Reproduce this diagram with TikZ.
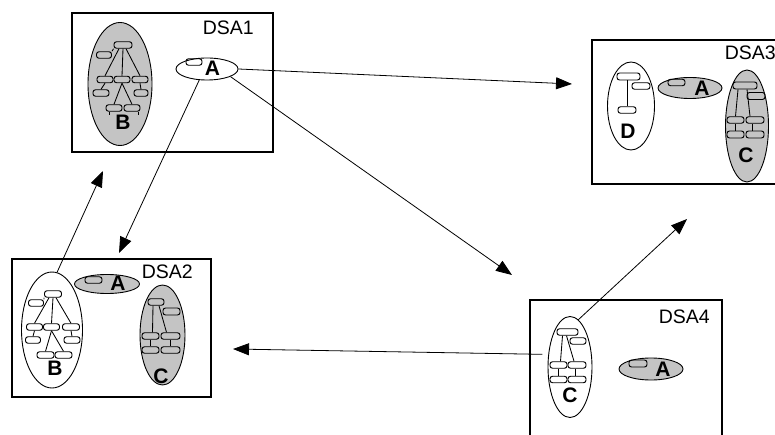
\documentclass[tikz,border=0pt]{standalone}
\usepackage{fontspec}
\setmainfont{Liberation Sans}
\usetikzlibrary{shapes.geometric, arrows.meta, positioning}

\begin{document}
\begin{tikzpicture}[x=1pt, y=-1pt,
  dsabox/.style={draw, line width=1.3pt},
  part/.style={ellipse, draw, line width=0.9pt, inner sep=0pt},
  grey part/.style={part, fill=black!23},
  white part/.style={part, fill=white},
  tnode/.style={draw, rounded corners=2.5pt, minimum width=17pt, minimum height=6.5pt, inner sep=0pt, line width=0.95pt},
  letter/.style={font=\bfseries\fontsize{21}{21}\selectfont, inner sep=0pt},
  dsalabel/.style={font=\fontsize{19.5}{19.5}\selectfont, inner sep=0pt, anchor=base east},
  link/.style={-{Triangle[length=16pt, width=12pt]}, line width=0.8pt},
  tline/.style={line width=0.85pt}]

  \useasboundingbox (0,0) rectangle (775,435);

  % the four boxes
  \draw[dsabox] (72,13) rectangle (273,152);
  \draw[dsabox] (12,259) rectangle (211,397);
  \draw[dsabox] (592,40) rectangle (778,184);
  \draw[dsabox] (530,300) rectangle (722,440);
  \node[dsalabel] (lab1) at (254,35) {DSA1};
  \node[dsalabel] (lab2) at (193,278) {DSA2};
  \node[dsalabel] (lab3) at (776,60) {DSA3};
  \node[dsalabel] (lab4) at (710,323) {DSA4};

  % DSA1
  \node[grey part, minimum width=64pt, minimum height=123pt] (b1) at (120,84) {};
  \node[white part, minimum width=62pt, minimum height=22pt] (a1) at (207,69) {};
  \node[tnode, minimum width=16pt] (a1r) at (194,62) {};
  \node[letter] (a1l) at (212.5,68.5) {A};
  \node[tnode, minimum width=18pt] (bat) at (123,45) {};
  \node[tnode, minimum width=15pt] (bal) at (104,55) {};
  \node[tnode, minimum width=16pt] (ba1) at (105,79.5) {};
  \node[tnode, minimum width=16pt] (ba2) at (122,79.5) {};
  \node[tnode, minimum width=16pt] (ba3) at (140,79.5) {};
  \node[tnode, minimum width=16pt] (ba4) at (101,93) {};
  \node[tnode, minimum width=14pt] (ba5) at (141,93) {};
  \node[tnode, minimum width=16pt] (ba6) at (114,108) {};
  \node[tnode, minimum width=16pt] (ba7) at (132,108) {};
  \draw[tline] (bat.south west) -- (bal.north east);
  \draw[tline] ([xshift=-4pt]bat.south) -- (ba1.north);
  \draw[tline] (bat.south) -- (ba2.north);
  \draw[tline] ([xshift=3pt]bat.south) -- (ba3.north);
  \draw[tline] (ba1.south) -- (ba4.north);
  \draw[tline] (ba3.south) -- (ba5.north);
  \draw[tline] (ba2.south) -- (ba6.north);
  \draw[tline] (ba2.south) -- (ba7.north);
  \draw[tline] ([xshift=-5pt]ba6.south) -- ++(0,3);
  \draw[tline] ([xshift=6pt]ba7.south) -- ++(0,3);
  \node[letter] (b1l) at (123,122.5) {B};

  % DSA2
  \node[white part, minimum width=61pt, minimum height=116pt] (b2) at (52,330) {};
  \node[grey part, minimum width=65pt, minimum height=19pt] (a2) at (107,284) {};
  \node[grey part, minimum width=45pt, minimum height=100pt] (c2) at (162.5,335) {};
  \node[tnode] (a2r) at (93.5,280) {};
  \node[letter] (a2l) at (118,283.5) {A};
  \node[tnode] (bbt) at (53,294) {};
  \node[tnode, minimum width=15pt] (bbl) at (36,303) {};
  \node[tnode, minimum width=16pt] (bb1) at (34.5,327) {};
  \node[tnode, minimum width=16pt] (bb2) at (51.5,327) {};
  \node[tnode, minimum width=17pt] (bb3) at (71,327) {};
  \node[tnode, minimum width=15pt] (bb4) at (33,340) {};
  \node[tnode, minimum width=16pt] (bb5) at (72,340) {};
  \node[tnode] (bb6) at (45.5,355) {};
  \node[tnode] (bb7) at (63.5,355) {};
  \draw[tline] (bbt.south west) -- (bbl.north east);
  \draw[tline] ([xshift=-4pt]bbt.south) -- (bb1.north);
  \draw[tline] (bbt.south) -- (bb2.north);
  \draw[tline] ([xshift=3pt]bbt.south) -- (bb3.north);
  \draw[tline] (bb1.south) -- (bb4.north);
  \draw[tline] (bb3.south) -- (bb5.north);
  \draw[tline] (bb2.south) -- (bb6.north);
  \draw[tline] (bb2.south) -- (bb7.north);
  \node[letter] (b2l) at (55,368.5) {B};
  \node[tnode, minimum width=16pt] (cbt) at (156,302) {};
  \node[tnode, minimum height=7pt] (cbr) at (171.5,311.5) {};
  \node[tnode] (cb1) at (150.5,336) {};
  \node[tnode, minimum width=19pt] (cb2) at (170.5,336) {};
  \node[tnode] (cb3) at (150.5,350) {};
  \node[tnode, minimum width=19pt] (cb4) at (170.5,350) {};
  \draw[tline] ([xshift=-3pt]cbt.south) -- ([xshift=2pt]cb1.north);
  \draw[tline] ([xshift=3pt]cbt.south) -- ([xshift=-4pt]cb2.north);
  \draw[tline] (cb1.south) -- (cb3.north);
  \draw[tline] (cb2.south) -- (cb4.north);
  \node[letter] (c2l) at (161,376) {C};

  % DSA3
  \node[white part, minimum width=47pt, minimum height=88pt] (d3) at (631,106) {};
  \node[grey part, minimum width=64pt, minimum height=21pt] (a3) at (690,88) {};
  \node[grey part, minimum width=43pt, minimum height=112pt] (c3) at (747,126) {};
  \node[tnode] (a3r) at (676.5,82.5) {};
  \node[letter] (a3l) at (702,88) {A};
  \node[tnode, minimum width=23pt, minimum height=7pt] (dt) at (628.5,76.5) {};
  \node[tnode, minimum width=18pt] (dr) at (641,86) {};
  \node[tnode, minimum width=18pt] (db) at (627,110) {};
  \draw[tline] (db.north |- dt.south) -- (db.north);
  \node[letter] (d3l) at (628,131) {D};
  \node[tnode, minimum width=24pt, minimum height=7pt] (cct) at (745,85.5) {};
  \node[tnode, minimum width=18pt, minimum height=7pt] (ccr) at (756,96) {};
  \node[tnode] (cc1) at (735.5,120) {};
  \node[tnode, minimum width=18pt] (cc2) at (755,120) {};
  \node[tnode, minimum height=7pt] (cc3) at (735.5,134.5) {};
  \node[tnode, minimum width=18pt, minimum height=7pt] (cc4) at (755,134.5) {};
  \draw[tline] ([xshift=-7pt]cct.south) -- (cc1.north);
  \draw[tline] ([xshift=2pt]cct.south) -- ([xshift=-5pt]cc2.north);
  \draw[tline] (cc1.south) -- (cc3.north);
  \draw[tline] ([xshift=-3pt]cc2.south) -- ([xshift=-3pt]cc4.north);
  \node[letter] (c3l) at (746,155) {C};

  % DSA4
  \node[white part, minimum width=44pt, minimum height=101pt] (c4) at (570,367) {};
  \node[grey part, minimum width=64pt, minimum height=22pt] (a4) at (651,369) {};
  \node[tnode, minimum width=18pt, minimum height=7pt] (a4r) at (638,363.5) {};
  \node[letter] (a4l) at (663,369) {A};
  \node[tnode, minimum width=21pt] (cdt) at (567.5,332) {};
  \node[tnode, minimum width=16pt] (cdr) at (578,341) {};
  \node[tnode] (cd1) at (558.5,365) {};
  \node[tnode, minimum width=18pt] (cd2) at (577,365) {};
  \node[tnode] (cd3) at (558.5,379.5) {};
  \node[tnode, minimum width=18pt] (cd4) at (577,379.5) {};
  \draw[tline] ([xshift=-5pt]cdt.south) -- ([xshift=2pt]cd1.north);
  \draw[tline] ([xshift=-1pt]cdt.south) -- ([xshift=-3pt]cd2.north);
  \draw[tline] (cd1.south) -- (cd3.north);
  \draw[tline] ([xshift=-2pt]cd2.south) -- ([xshift=-2pt]cd4.north);
  \node[letter] (c4l) at (570,395) {C};

  % links between the boxes
  \coordinate (tip13) at (572,84);
  \coordinate (tip14) at (512,275);
  \coordinate (tip12) at (119,253);
  \coordinate (tip21) at (103,171);
  \coordinate (tip43) at (687,219);
  \coordinate (tip42) at (233,349);
  \draw[link] (a1.east) -- (tip13);
  \draw[link] (a1.-18) -- (tip14);
  \draw[link] (a1.-125) -- (tip12);
  \draw[link] (b2.85) -- (tip21);
  \draw[link] (c4.80) -- (tip43);
  \draw[link, shorten <=6pt] (c4.150) -- (tip42);
\end{tikzpicture}
\end{document}
